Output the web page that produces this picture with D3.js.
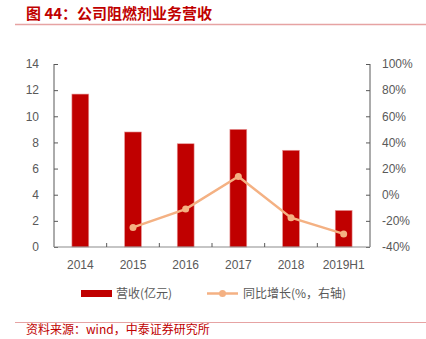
<!DOCTYPE html>
<html><head><meta charset="utf-8">
<script src="https://cdn.jsdelivr.net/npm/d3@7/dist/d3.min.js"></script>
<style>
body{margin:0;background:#fff;}
svg{display:block;}
</style></head>
<body><svg id="c" width="426" height="339"></svg>
<script>
const categories = ["2014","2015","2016","2017","2018","2019H1"];
const revenue = [11.7, 8.8, 7.9, 9.0, 7.4, 2.8];
const growth = [null, -25, -11, 14, -17.6, -30];
const leftTicks = [0,2,4,6,8,10,12,14];
const rightTicks = [-40,-20,0,20,40,60,80,100];

const svg = d3.select("#c");
const font = "'Liberation Sans', Arial, sans-serif";
const cjk = "'Noto Sans CJK SC', sans-serif";

// title
svg.append("text").attr("x",26).attr("y",19).attr("fill","#C00000")
  .attr("font-family",cjk).attr("font-weight","bold").attr("font-size",15)
  .text("图 44：公司阻燃剂业务营收");
svg.append("line").attr("x1",15).attr("x2",426).attr("y1",24.5).attr("y2",24.5)
  .attr("stroke","#E6A3A3").attr("stroke-width",1.5);

const x0 = 54, x1 = 370, yTop = 64, yBot = 247;
const x = d3.scaleBand().domain(categories).range([x0,x1]).paddingInner(0.68).paddingOuter(0.34);
const y = d3.scaleLinear().domain([0,14]).range([yBot,yTop]);
const y2 = d3.scaleLinear().domain([-40,100]).range([yBot,yTop]);

// bars
svg.append("g").selectAll("rect").data(revenue).join("rect")
  .attr("x",(d,i)=>x(categories[i])).attr("width",x.bandwidth())
  .attr("y",d=>y(d)).attr("height",d=>yBot-y(d))
  .attr("fill","#C00000").attr("stroke","#E79A9A").attr("stroke-width",0.6);

// left axis (ticks inward)
const gl = svg.append("g").attr("transform",`translate(${x0},0)`)
  .call(d3.axisLeft(y).tickValues(leftTicks).tickSize(0).tickPadding(15));
gl.select(".domain").attr("stroke","#595959").attr("d",`M0,${yTop}V${yBot}`);
gl.selectAll(".tick line").attr("x2",4).attr("stroke","#595959");
gl.selectAll(".tick text").attr("fill","#595959").attr("font-family",font).attr("font-size",12);

// right axis (ticks inward)
const gr = svg.append("g").attr("transform",`translate(${x1},0)`)
  .call(d3.axisRight(y2).tickValues(rightTicks).tickSize(0).tickPadding(12).tickFormat(d=>d+"%"));
gr.select(".domain").attr("stroke","#595959").attr("d",`M0,${yTop}V${yBot}`);
gr.selectAll(".tick line").attr("x2",-4).attr("stroke","#595959");
gr.selectAll(".tick text").attr("fill","#595959").attr("font-family",font).attr("font-size",12);

// bottom axis
const gb = svg.append("g").attr("transform",`translate(0,${yBot})`);
gb.append("line").attr("x1",x0).attr("x2",x1).attr("stroke","#8c8c8c").attr("stroke-width",1.2);
const step = x.step();
gb.selectAll("line.t").data(categories.slice(1)).join("line").attr("class","t")
  .attr("x1",d=>x(d)-x.paddingInner()*step/2).attr("x2",d=>x(d)-x.paddingInner()*step/2)
  .attr("y1",0).attr("y2",-4).attr("stroke","#595959");
gb.selectAll("text").data(categories).join("text")
  .attr("x",d=>x(d)+x.bandwidth()/2).attr("y",22).attr("text-anchor","middle")
  .attr("fill","#595959").attr("font-family",font).attr("font-size",12).text(d=>d);

// line
const pts = growth.map((g,i)=>({g,c:categories[i]})).filter(p=>p.g!==null);
const lineColor = "#F4B183";
svg.append("path").datum(pts)
  .attr("d",d3.line().x(p=>x(p.c)+x.bandwidth()/2).y(p=>y2(p.g)))
  .attr("fill","none").attr("stroke",lineColor).attr("stroke-width",2.5);
svg.append("g").selectAll("circle").data(pts).join("circle")
  .attr("cx",p=>x(p.c)+x.bandwidth()/2).attr("cy",p=>y2(p.g)).attr("r",3.5).attr("fill",lineColor);

// legend
const lg = svg.append("g");
lg.append("rect").attr("x",81).attr("y",290).attr("width",31).attr("height",7).attr("fill","#C00000");
lg.append("text").attr("x",116).attr("y",298).attr("fill","#595959").attr("font-family",cjk).attr("font-size",12).text("营收(亿元)");
lg.append("line").attr("x1",207).attr("x2",238).attr("y1",293.5).attr("y2",293.5).attr("stroke",lineColor).attr("stroke-width",2.5);
lg.append("circle").attr("cx",222.5).attr("cy",293.5).attr("r",3.5).attr("fill",lineColor);
lg.append("text").attr("x",243).attr("y",298).attr("fill","#595959").attr("font-family",cjk).attr("font-size",12).text("同比增长(%，右轴)");

// source
svg.append("line").attr("x1",15).attr("x2",426).attr("y1",322.5).attr("y2",322.5)
  .attr("stroke","#E6A3A3").attr("stroke-width",1.2);
svg.append("text").attr("x",26).attr("y",334).attr("fill","#C00000")
  .attr("font-family",cjk).attr("font-size",12).text("资料来源：wind，中泰证券研究所");
</script></body></html>
